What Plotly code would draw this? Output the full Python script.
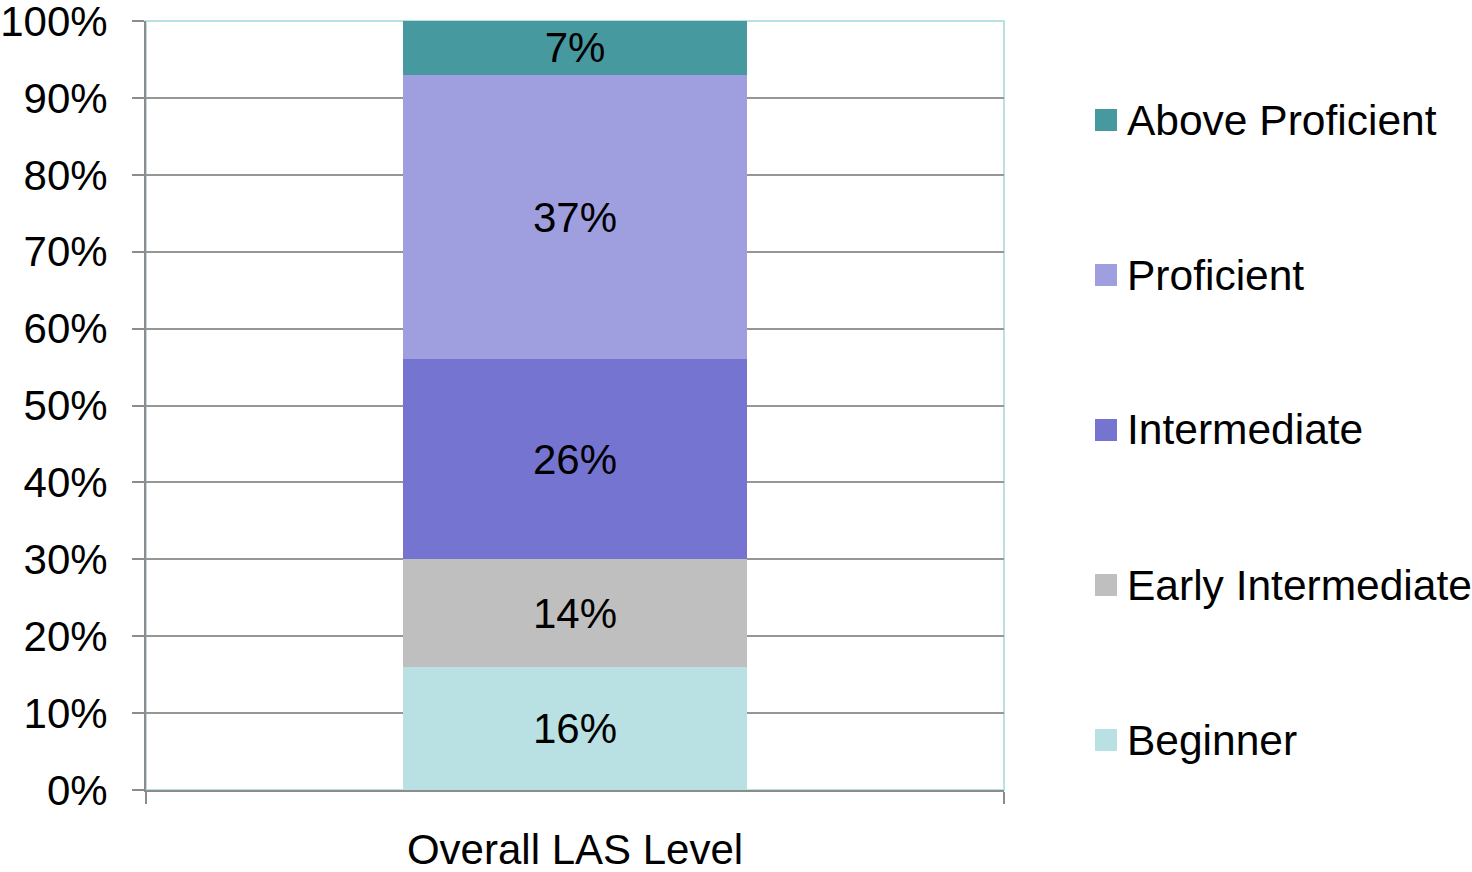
import plotly.graph_objects as go

categories = ["Overall LAS Level"]
series_names = ["Beginner", "Early Intermediate", "Intermediate", "Proficient", "Above Proficient"]
series_values = [[16], [14], [26], [37], [7]]
series_colors = ["#B9E0E3", "#BFBFBF", "#7575D1", "#9F9FDF", "#4799A0"]
y_tick_values = [0, 10, 20, 30, 40, 50, 60, 70, 80, 90, 100]
y_tick_labels = ["0%", "10%", "20%", "30%", "40%", "50%", "60%", "70%", "80%", "90%", "100%"]

FONT = "Liberation Sans, Arial, sans-serif"

fig = go.Figure()
for name, vals, col in zip(series_names, series_values, series_colors):
    fig.add_trace(go.Bar(
        x=categories, y=vals, name=name,
        marker=dict(color=col, line=dict(width=0)),
        width=0.4,
        text=[f"{v}%" for v in vals], texttemplate="%{text}",
        textposition="inside", insidetextanchor="middle",
        constraintext="none",
        textfont=dict(family=FONT, size=42, color="black"),
        showlegend=False,
    ))

# plot area border (top/right light teal)
fig.add_shape(type="rect", xref="paper", yref="paper", x0=0, x1=1, y0=0, y1=1,
              line=dict(color="#B9E0E3", width=2), layer="below")

# manual legend (top entry = last series)
W, H = 858.0, 769.0
legend_centers_px = [740, 585, 430, 275, 120]
for name, col, cy in zip(series_names, series_colors, legend_centers_px):
    yp = (790 - cy) / H
    fig.add_shape(type="rect", xref="paper", yref="paper",
                  x0=(1095 - 146) / W, x1=(1117 - 146) / W,
                  y0=yp - 11 / H, y1=yp + 11 / H,
                  fillcolor=col, line=dict(width=0))
    fig.add_annotation(xref="paper", yref="paper", x=(1125 - 146) / W, y=yp,
                       text=name, showarrow=False, xanchor="left", yanchor="middle",
                       font=dict(family=FONT, size=42.5, color="black"))

fig.update_layout(
    barmode="stack",
    width=1472, height=872, autosize=False,
    margin=dict(l=146, r=468, t=21, b=82),
    paper_bgcolor="white", plot_bgcolor="white",
    font=dict(family=FONT, size=42, color="black"),
    showlegend=False,
)
fig.update_xaxes(
    range=[-0.5, 0.5], showline=True, linecolor="#8C8C8C", linewidth=2,
    ticks="outside", tickson="boundaries", ticklen=12, tickcolor="#8C8C8C", tickwidth=2,
    tickfont=dict(family=FONT, size=42, color="black"), showgrid=False,
    ticklabelstandoff=22, automargin=False,
)
fig.update_yaxes(
    range=[0, 100], tickvals=y_tick_values, ticktext=y_tick_labels,
    showline=True, linecolor="#8C8C8C", linewidth=2,
    ticks="outside", ticklen=12, tickcolor="#8C8C8C", tickwidth=2,
    showgrid=True, gridcolor="#969696", gridwidth=2,
    tickfont=dict(family=FONT, size=42, color="black"),
    ticklabelstandoff=16, zeroline=False, ticklabeloverflow="allow",
    automargin=False,
)

fig.write_html(
    "out.html",
    config={"responsive": False, "displayModeBar": False},
    post_script="document.body.style.margin='0';document.body.style.overflow='hidden';",
)
